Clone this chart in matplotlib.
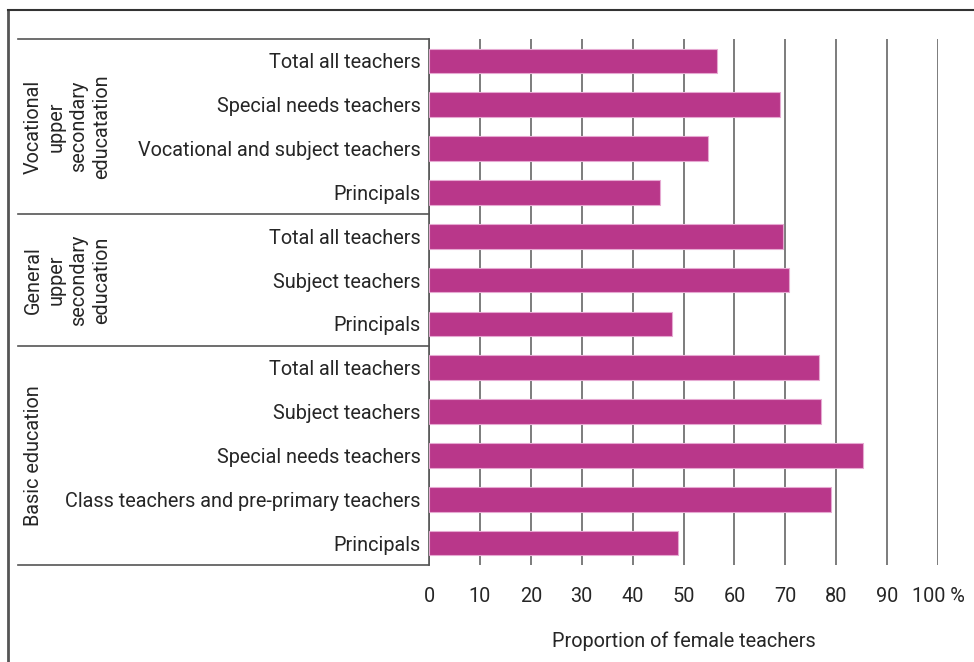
import numpy as np
import matplotlib.pyplot as plt
from matplotlib.lines import Line2D

plt.rcParams['font.family'] = ['Roboto', 'DejaVu Sans']

# rows from top to bottom
labels = ['Total all teachers', 'Special needs teachers', 'Vocational and subject teachers', 'Principals',
          'Total all teachers', 'Subject teachers', 'Principals',
          'Total all teachers', 'Subject teachers', 'Special needs teachers',
          'Class teachers and pre-primary teachers', 'Principals']
values = [56.5, 69.0, 54.8, 45.3,
          69.5, 70.7, 47.7,
          76.7, 77.1, 85.2, 78.9, 49.0]
groups = ['Vocational\nupper\nsecondary\neducatation',
          'General\nupper\nsecondary\neducation',
          'Basic education']
group_sizes = [4, 3, 5]
xticks = [0, 10, 20, 30, 40, 50, 60, 70, 80, 90, 100]
xticklabels = ['0', '10', '20', '30', '40', '50', '60', '70', '80', '90', '100 %']

W, H = 974, 662
fs = 14.3
txt = '#262626'
fig = plt.figure(figsize=(W / 100, H / 100), dpi=100)
ax = fig.add_axes([429 / W, 1 - 565 / H, 509 / W, 526 / H])

y = np.arange(len(labels))
ax.barh(y, values, height=0.56, color='#B9378A', edgecolor='#E6A9D2', linewidth=0.8, zorder=3)
ax.set_ylim(len(labels) - 0.5, -0.5)
ax.set_xlim(0, 100)

ax.set_yticks(y)
ax.set_yticklabels(labels, fontsize=fs, color=txt)
ax.set_xticks(xticks)
ax.set_xticklabels(xticklabels, fontsize=fs, color=txt)
ax.tick_params(axis='y', length=0, pad=6)
ax.tick_params(axis='x', length=0, pad=16)
ax.set_xlabel('Proportion of female teachers', fontsize=fs, color=txt, labelpad=18)

ax.grid(axis='x', color='#666666', linewidth=1.2, zorder=0)
for s in ['top', 'right', 'bottom']:
    ax.spines[s].set_visible(False)
ax.spines['left'].set_color('#555555')
ax.spines['left'].set_linewidth(1.2)

# group boxes on the left
x0 = (18 - 429) / 509
bounds = np.concatenate([[0], np.cumsum(group_sizes)]) - 0.5
trans = ax.get_yaxis_transform()
for b in bounds:
    ax.add_line(Line2D([x0, 0], [b, b], transform=trans, color='#555555', linewidth=1.2, clip_on=False))
for i, g in enumerate(groups):
    mid = (bounds[i] + bounds[i + 1]) / 2
    ax.text((24 - 429) / 509, mid, g, transform=trans, rotation=90, ha='left', va='center',
            fontsize=fs, color=txt, linespacing=1.25, multialignment='center')

# outer frame
fig.add_artist(Line2D([8 / W, 8 / W], [0, 1 - 10 / H], color='#555555', linewidth=2))
fig.add_artist(Line2D([8 / W, 1], [1 - 10 / H, 1 - 10 / H], color='#333333', linewidth=1.5))

fig.savefig('out.png', dpi=100)
